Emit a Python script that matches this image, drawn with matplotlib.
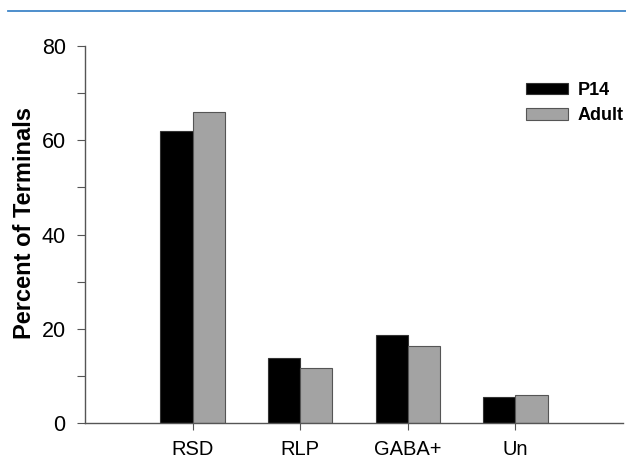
import matplotlib
matplotlib.use("Agg")
import matplotlib.pyplot as plt
import numpy as np
from matplotlib.lines import Line2D

categories = ["RSD", "RLP", "GABA+", "Un"]
p14 = [62.0, 13.9, 18.7, 5.6]
adult = [66.0, 11.6, 16.4, 5.9]

plt.rcParams['font.family'] = ['Liberation Sans', 'DejaVu Sans']

fig = plt.figure(figsize=(6.26, 4.59), dpi=100)
ax = fig.add_axes([0.136, 0.078, 0.859, 0.822])

x = np.arange(len(categories))
w = 0.3
ax.bar(x - w / 2, p14, w, color='black', edgecolor='#333333', linewidth=0.8, label='P14')
ax.bar(x + w / 2, adult, w, color='#a3a3a3', edgecolor='#555555', linewidth=0.8, label='Adult')

ax.set_xlim(-1, 4)
ax.set_ylim(0, 80)
ax.set_yticks([0, 20, 40, 60, 80])
ax.set_yticks([10, 30, 50, 70], minor=True)
ax.set_xticks(x)
ax.set_xticklabels(categories)

for s in ['top', 'right']:
    ax.spines[s].set_visible(False)
for s in ['left', 'bottom']:
    ax.spines[s].set_color('#555555')
    ax.spines[s].set_linewidth(1.0)

ax.tick_params(axis='y', which='both', length=6, width=0.8, color='#555555', labelsize=15.5, pad=8)
ax.tick_params(axis='x', length=5, width=0.8, color='#555555', labelsize=14.5, pad=7)
ax.set_ylabel('Percent of Terminals', fontsize=17, fontweight='bold', labelpad=4)
ax.yaxis.label.set_y(0.53)

leg = ax.legend(loc='upper right', bbox_to_anchor=(1.008, 0.837), bbox_transform=fig.transFigure,
                borderaxespad=0, frameon=False,
                prop={'weight': 'bold', 'size': 13}, handlelength=2.3, handleheight=0.6,
                labelspacing=0.45, handletextpad=0.55)

fig.add_artist(Line2D([0.013, 1.0], [0.976, 0.976], transform=fig.transFigure,
                      color='#3f86c8', linewidth=1.3))

fig.savefig('out.png', dpi=100)
